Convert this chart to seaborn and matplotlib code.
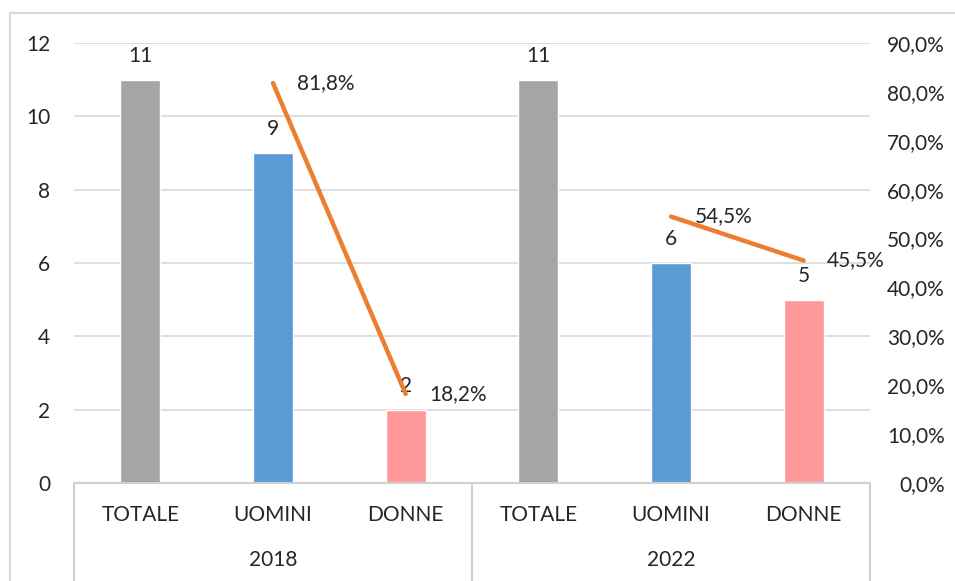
import numpy as np
import pandas as pd
import matplotlib.pyplot as plt
import seaborn as sns
from matplotlib.lines import Line2D
from matplotlib.ticker import FuncFormatter

# ----------------------------------------------------
# Data
# ----------------------------------------------------
years = ["2018", "2022"]
groups = ["TOTALE", "UOMINI", "DONNE"]
counts = [11, 9, 2, 11, 6, 5]
shares = [np.nan, 81.8, 18.2, np.nan, 54.5, 45.5]

palette = {"TOTALE": "#A5A5A5", "UOMINI": "#5B9BD5", "DONNE": "#FF9999"}

df = pd.DataFrame({
    "year": np.repeat(years, len(groups)),
    "group": groups * len(years),
    "count": counts,
    "share": shares,
})
df["key"] = df["year"] + " " + df["group"]
df["pos"] = np.arange(len(df))

# ----------------------------------------------------
# Style
# ----------------------------------------------------
sns.set_style("white")
plt.rcParams["font.family"] = ["Lato", "DejaVu Sans"]
plt.rcParams["font.size"] = 15

fig = plt.figure(figsize=(9.55, 5.81), dpi=100)
ax = fig.add_axes([74 / 955, 1 - 483 / 581, 796 / 955, 440 / 581])

sns.barplot(data=df, x="key", y="count", hue="group", order=df["key"],
            palette=palette, dodge=False, width=0.3, saturation=1,
            legend=False, ax=ax)

ax.set_xlim(-0.5, len(df) - 0.5)
ax.set_ylim(0, 12)
ax.set_yticks(range(0, 13, 2))
ax.set_xticks([])
ax.set_xlabel("")
ax.set_ylabel("")
ax.grid(axis="y", color="#D9D9D9", linewidth=1.2)
ax.set_axisbelow(True)
for s in ax.spines.values():
    s.set_visible(False)
ax.tick_params(axis="y", length=0, pad=17, labelsize=15)

for c in ax.containers:
    ax.bar_label(c, padding=10, fontsize=15)

# ----------------------------------------------------
# Secondary axis: shares
# ----------------------------------------------------
ax2 = ax.twinx()
ax2.set_ylim(0, 90)
ax2.set_yticks(range(0, 91, 10))
ax2.yaxis.set_major_formatter(FuncFormatter(lambda v, p: f"{v:.1f}%".replace(".", ",")))
ax2.tick_params(axis="y", length=0, pad=54, labelsize=15)
for lab in ax2.get_yticklabels():
    lab.set_horizontalalignment("right")
for s in ax2.spines.values():
    s.set_visible(False)

for yr in years:
    sub = df[(df["year"] == yr) & df["share"].notna()]
    sns.lineplot(x=sub["pos"], y=sub["share"], color="#ED7D31", linewidth=3.2,
                 solid_capstyle="round", ax=ax2)
    for _, r in sub.iterrows():
        ax2.annotate(f"{r['share']:.1f}%".replace(".", ","), (r["pos"], r["share"]),
                     xytext=(17, 0), textcoords="offset points",
                     va="center", ha="left", fontsize=15)
ax2.set_xlabel("")
ax2.set_ylabel("")

# ----------------------------------------------------
# Two-level category axis
# ----------------------------------------------------
trans = ax.get_xaxis_transform()
axis_col = "#D0D0D0"
ax.plot([-0.5, len(df) - 0.5], [0, 0], color=axis_col, lw=1.5,
        transform=trans, clip_on=False)
for xb in np.arange(-0.5, len(df), len(groups)):
    ax.plot([xb, xb], [0, -0.23], color=axis_col, lw=1.5,
            transform=trans, clip_on=False)
for _, r in df.iterrows():
    ax.text(r["pos"], -0.073, r["group"], ha="center", va="center",
            fontsize=15, transform=trans)
for i, yr in enumerate(years):
    mid = df[df["year"] == yr]["pos"].mean()
    ax.text(mid, -0.175, yr, ha="center", va="center", fontsize=15, transform=trans)

# outer chart frame
fig.add_artist(Line2D([10 / 955, 10 / 955], [0, 1 - 13 / 581], color="#D9D9D9", lw=1.5))
fig.add_artist(Line2D([10 / 955, 1], [1 - 13 / 581, 1 - 13 / 581], color="#D9D9D9", lw=1.5))

plt.savefig("out.png", dpi=100)
